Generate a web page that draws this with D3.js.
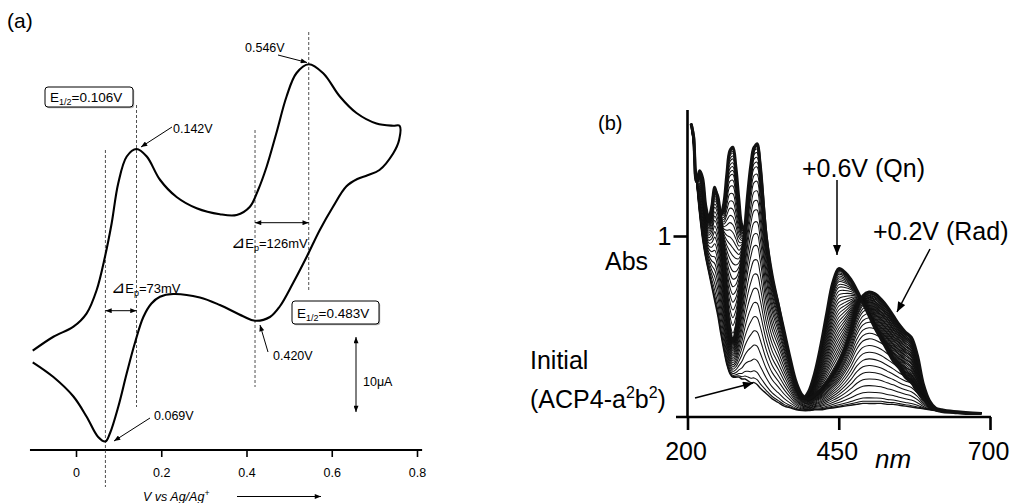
<!DOCTYPE html>
<html>
<head>
<meta charset="utf-8">
<script src="https://cdn.jsdelivr.net/npm/d3@7"></script>
<style>
  html, body { margin: 0; padding: 0; background: #fff; }
  svg { display: block; font-family: "Liberation Sans", Arial, Helvetica, sans-serif; }
</style>
</head>
<body>
<svg id="fig" width="1021" height="503"></svg>
<script>
// ---------- (a) cyclic voltammogram, V vs Ag/Ag+ and current in µA ----------
const cvTicks = [0, 0.2, 0.4, 0.6, 0.8];

// anodic sweep (left to right)
const forwardPotential = [-0.1015, -0.053, -0.006, 0.025, 0.0485, 0.068, 0.0837, 0.099, 0.119, 0.142,
  0.166, 0.197, 0.236, 0.283, 0.3375, 0.377, 0.408, 0.427, 0.447, 0.470, 0.494, 0.517, 0.546,
  0.580, 0.619, 0.658, 0.705, 0.744, 0.759];
const forwardCurrent = [-0.09, 1.77, 3.11, 4.89, 8.0, 12.44, 16.9, 22.2, 25.8, 26.8,
  25.8, 22.7, 20.4, 18.9, 18.1, 18.0, 19.1, 21.3, 24.4, 28.9, 33.8, 36.9, 38.1,
  36.9, 33.8, 31.6, 30.2, 29.9, 29.9];

// cathodic sweep (right to left)
const reversePotential = [0.758, 0.744, 0.712, 0.684, 0.660, 0.634, 0.603, 0.572, 0.541, 0.509,
  0.478, 0.455, 0.420, 0.392, 0.3375, 0.2906, 0.228, 0.197, 0.177, 0.158, 0.138, 0.119, 0.099,
  0.0797, 0.069, 0.052, 0.025, -0.006, -0.053, -0.1015];
const reverseCurrent = [28.0, 26.2, 24.0, 23.3, 22.8, 21.8, 19.1, 16.0, 12.4, 8.9,
  5.8, 4.4, 3.9, 4.5, 6.0, 7.0, 7.47, 7.1, 6.2, 4.4, 0.9, -3.1, -7.6,
  -11.1, -12.2, -11.6, -8.9, -6.2, -3.6, -1.64];

const peakPotentials = [0.069, 0.142, 0.420, 0.546];   // V
const halfWavePotentials = [0.106, 0.483];             // V
const peakSeparations = [73, 126];                     // mV
const scaleBarCurrent = 10;                            // µA

// ---------- (b) spectroelectrochemistry ----------
const wavelength = [206, 210, 215, 220, 225, 230, 235, 240, 245, 250, 255, 260, 265, 270, 275, 280,
  285, 290, 295, 300, 305, 310, 315, 320, 330, 340, 350, 360, 370, 380, 390, 400, 410, 420, 430,
  440, 450, 460, 470, 480, 490, 500, 510, 520, 530, 540, 550, 560, 570, 580, 590, 600, 610, 620,
  640, 660, 686];

const absInitial = [1.62, 1.50, 1.30, 1.12, 0.98, 0.88, 0.80, 0.72, 0.64, 0.56, 0.46, 0.37, 0.29,
  0.24, 0.22, 0.22, 0.22, 0.21, 0.21, 0.20, 0.19, 0.19, 0.18, 0.16, 0.13, 0.10, 0.08, 0.06, 0.05,
  0.04, 0.035, 0.035, 0.04, 0.04, 0.045, 0.05, 0.055, 0.06, 0.065, 0.07, 0.075, 0.075, 0.075,
  0.075, 0.07, 0.07, 0.065, 0.06, 0.055, 0.05, 0.045, 0.04, 0.035, 0.03, 0.025, 0.02, 0.02];

const absRadical = [1.62, 1.55, 1.30, 1.33, 1.28, 1.14, 1.08, 1.14, 1.25, 1.22, 1.08, 0.86, 0.64,
  0.48, 0.42, 0.48, 0.62, 0.82, 1.05, 1.25, 1.40, 1.49, 1.50, 1.38, 1.00, 0.76, 0.62, 0.47, 0.32,
  0.19, 0.12, 0.10, 0.12, 0.15, 0.19, 0.24, 0.30, 0.38, 0.48, 0.60, 0.67, 0.69, 0.68, 0.65, 0.61,
  0.56, 0.51, 0.47, 0.44, 0.34, 0.18, 0.09, 0.05, 0.04, 0.03, 0.025, 0.02];

const absQuinone = [1.62, 1.55, 1.30, 1.36, 1.32, 1.17, 1.10, 1.16, 1.27, 1.20, 1.12, 1.18, 1.34,
  1.47, 1.49, 1.38, 1.20, 1.06, 1.04, 1.16, 1.35, 1.48, 1.51, 1.40, 1.00, 0.78, 0.62, 0.45, 0.30,
  0.16, 0.10, 0.14, 0.24, 0.39, 0.57, 0.74, 0.82, 0.80, 0.76, 0.70, 0.63, 0.56, 0.49, 0.43, 0.37,
  0.31, 0.27, 0.22, 0.19, 0.14, 0.10, 0.06, 0.04, 0.03, 0.025, 0.02, 0.02];

// conversion reached at each recorded scan
const radicalSteps = [0, 0.02, 0.05, 0.1, 0.16, 0.22, 0.28, 0.34, 0.4, 0.46, 0.52, 0.58, 0.63,
  0.68, 0.73, 0.77, 0.81, 0.85, 0.88, 0.91, 0.93, 0.95, 0.97, 0.985, 1];
const quinoneSteps = [0.04, 0.08, 0.12, 0.16, 0.2, 0.24, 0.28, 0.32, 0.36, 0.4, 0.44, 0.48, 0.52,
  0.56, 0.6, 0.64, 0.68, 0.72, 0.76, 0.8, 0.83, 0.86, 0.88, 0.9, 0.92, 0.94, 0.955, 0.97, 0.98,
  0.99, 1];

const nmTicks = [200, 450, 700];
const absTicks = [1];

// ======================================================================
const FONT = '"Liberation Sans", Arial, Helvetica, sans-serif';
const svg = d3.select("#fig");
svg.append("rect").attr("width", 1021).attr("height", 503).attr("fill", "#fff");

const defs = svg.append("defs");
function addHead(id, w, h) {
  defs.append("marker")
    .attr("id", id)
    .attr("viewBox", "0 0 10 8")
    .attr("refX", 10).attr("refY", 4)
    .attr("markerWidth", w).attr("markerHeight", h)
    .attr("markerUnits", "userSpaceOnUse")
    .attr("orient", "auto-start-reverse")
    .append("path").attr("d", "M0,0 L10,4 L0,8 Z").attr("fill", "#000");
}
addHead("headS", 7, 5);
addHead("headL", 12, 8);

function arrow(g, x1, y1, x2, y2, head, width, both) {
  const l = g.append("line")
    .attr("x1", x1).attr("y1", y1).attr("x2", x2).attr("y2", y2)
    .attr("stroke", "#000").attr("stroke-width", width)
    .attr("marker-end", `url(#${head})`);
  if (both) l.attr("marker-start", `url(#${head})`);
  return l;
}

// ---------------------------- panel (a) ----------------------------
const gA = svg.append("g").attr("font-family", FONT);
const xA = d3.scaleLinear().domain([0, 0.8]).range([76, 417]);
const yA = d3.scaleLinear().domain([0, 10]).range([350, 275]);

gA.append("text").attr("x", 7).attr("y", 28).attr("font-size", 21).text("(a)");

// potential axis
gA.append("line")
  .attr("x1", xA(-0.108)).attr("x2", xA(0.812))
  .attr("y1", 450).attr("y2", 450)
  .attr("stroke", "#000").attr("stroke-width", 2);
const axA = gA.append("g")
  .attr("transform", "translate(0,450)")
  .call(d3.axisBottom(xA).tickValues(cvTicks).tickSize(7).tickSizeOuter(0).tickPadding(11)
    .tickFormat(d => d === 0 ? "0" : d3.format(".1f")(d)));
axA.select(".domain").remove();
axA.attr("font-family", FONT).attr("font-size", 12.5);
axA.selectAll(".tick line").attr("stroke", "#000").attr("stroke-width", 1.6);
axA.selectAll(".tick text").attr("fill", "#000");

// axis caption with direction arrow
const cap = gA.append("text").attr("x", 143).attr("y", 501)
  .attr("font-size", 12.5).attr("font-style", "italic");
cap.append("tspan").text("V vs Ag/Ag");
cap.append("tspan").attr("dy", -5).attr("font-size", 8.5).text("+");
arrow(gA, 237, 496.5, 321, 496.5, "headS", 1, false);

// dashed guides at the peak potentials
const guideSpan = [[150, 487], [105, 407], [130, 387], [32, 290]];
gA.selectAll("line.guide").data(peakPotentials).join("line")
  .attr("class", "guide")
  .attr("x1", d => xA(d)).attr("x2", d => xA(d))
  .attr("y1", (d, i) => guideSpan[i][0]).attr("y2", (d, i) => guideSpan[i][1])
  .attr("stroke", "#222").attr("stroke-width", 0.8).attr("stroke-dasharray", "3,2");

// voltammogram trace
const cvV = forwardPotential.concat(reversePotential);
const cvI = forwardCurrent.concat(reverseCurrent);
const cvLine = d3.line()
  .x((d, i) => xA(cvV[i]))
  .y(d => yA(d))
  .curve(d3.curveCatmullRom.alpha(0.5));
gA.append("path").datum(cvI)
  .attr("d", cvLine)
  .attr("fill", "none").attr("stroke", "#000").attr("stroke-width", 2.1)
  .attr("stroke-linejoin", "round");

// peak potential callouts
const fmtV = d => d3.format(".3f")(d) + "V";
const peakLabels = [
  { tx: 154, ty: 420, a: [150, 418, 114, 441] },
  { tx: 173, ty: 133, a: [172, 127, 141, 147] },
  { tx: 273, ty: 360, a: [268, 352, 260, 325] },
  { tx: 245, ty: 52, a: [278, 55, 307, 62.5] }
];
peakPotentials.forEach((v, i) => {
  const p = peakLabels[i];
  gA.append("text").attr("x", p.tx).attr("y", p.ty).attr("font-size", 12.5).text(fmtV(v));
  arrow(gA, p.a[0], p.a[1], p.a[2], p.a[3], "headS", 1, false);
});

// half-wave potential boxes
const halfBoxes = [{ x: 45, y: 87, w: 88, h: 20 }, { x: 292, y: 301, w: 87, h: 23 }];
halfWavePotentials.forEach((v, i) => {
  const b = halfBoxes[i];
  gA.append("rect").attr("x", b.x + 1.2).attr("y", b.y + 1.2).attr("width", b.w).attr("height", b.h)
    .attr("rx", 3).attr("fill", "#b0b0b0");
  gA.append("rect").attr("x", b.x).attr("y", b.y).attr("width", b.w).attr("height", b.h)
    .attr("rx", 3).attr("fill", "#fff").attr("stroke", "#000").attr("stroke-width", 1);
  const t = gA.append("text").attr("x", b.x + 5).attr("y", b.y + b.h / 2 + 5).attr("font-size", 13.5);
  t.append("tspan").text("E");
  t.append("tspan").attr("dy", 3).attr("font-size", 9).text("1/2");
  t.append("tspan").attr("dy", -3).text("=" + fmtV(v));
});

// peak separation markers
const sepLayout = [
  { from: 0, to: 1, y: 310.7, tx: 111, ty: 293 },
  { from: 2, to: 3, y: 222.7, tx: 231, ty: 248 }
];
peakSeparations.forEach((mv, i) => {
  const s = sepLayout[i];
  arrow(gA, xA(peakPotentials[s.from]), s.y, xA(peakPotentials[s.to]), s.y, "headS", 1, true);
  const t = gA.append("text").attr("x", s.tx).attr("y", s.ty).attr("font-size", 13);
  t.append("tspan").attr("font-size", 17).attr("font-family", "DejaVu Sans").text("\u22BF");
  t.append("tspan").text("E");
  t.append("tspan").attr("dy", 3).attr("font-size", 9).text("p");
  t.append("tspan").attr("dy", -3).text("=" + mv + "mV");
});

// current scale bar
const barBase = -8.27;
arrow(gA, 356, yA(barBase), 356, yA(barBase + scaleBarCurrent), "headS", 1, true);
gA.append("text").attr("x", 363).attr("y", 386).attr("font-size", 12.5)
  .text(scaleBarCurrent + "\u03BCA");

// ---------------------------- panel (b) ----------------------------
const gB = svg.append("g").attr("font-family", FONT);
const xB = d3.scaleLinear().domain([200, 700]).range([687.5, 990]);
const yB = d3.scaleLinear().domain([0, 1]).range([417, 236]);

gB.append("text").attr("x", 598).attr("y", 130).attr("font-size", 20).text("(b)");

// spectra
const specLine = d3.line()
  .x((d, i) => xB(wavelength[i]))
  .y(d => yB(d))
  .curve(d3.curveCatmullRom.alpha(0.5));
const mix = (a, b, f) => a.map((v, i) => v + f * (b[i] - v));

const curves = [];
radicalSteps.forEach(f => curves.push({ abs: mix(absInitial, absRadical, f), w: f === 0 ? 1.4 : 1.05 }));
quinoneSteps.forEach(f => curves.push({ abs: mix(absRadical, absQuinone, f), w: 1.05 }));
curves.push({ abs: absRadical, w: 3 });
curves.push({ abs: absQuinone, w: 3 });

gB.append("g").selectAll("path").data(curves).join("path")
  .attr("d", d => specLine(d.abs))
  .attr("fill", "none").attr("stroke", "#111")
  .attr("stroke-width", d => d.w).attr("stroke-linejoin", "round");

// axes
gB.append("line").attr("x1", 676).attr("x2", 991).attr("y1", 417).attr("y2", 417)
  .attr("stroke", "#000").attr("stroke-width", 2.6);
gB.append("line").attr("x1", xB(200)).attr("x2", xB(200)).attr("y1", 110).attr("y2", 417)
  .attr("stroke", "#000").attr("stroke-width", 2.6);

const axB = gB.append("g").attr("transform", "translate(0,417)")
  .call(d3.axisBottom(xB).tickValues(nmTicks).tickSize(13).tickSizeOuter(0).tickPadding(12));
axB.select(".domain").remove();
axB.attr("font-family", FONT).attr("font-size", 25);
axB.selectAll(".tick line").attr("stroke", "#000").attr("stroke-width", 2.6);
axB.selectAll(".tick text").attr("fill", "#000").attr("dx", -2);

const ayB = gB.append("g").attr("transform", `translate(${xB(200)},0)`)
  .call(d3.axisLeft(yB).tickValues(absTicks).tickSize(14).tickSizeOuter(0).tickPadding(2)
    .tickFormat(d3.format("d")));
ayB.select(".domain").remove();
ayB.attr("font-family", FONT).attr("font-size", 25);
ayB.selectAll(".tick line").attr("stroke", "#000").attr("stroke-width", 2.6);
ayB.selectAll(".tick text").attr("fill", "#000");

gB.append("text").attr("x", 605).attr("y", 270).attr("font-size", 25).text("Abs");
gB.append("text").attr("x", 875).attr("y", 468).attr("font-size", 26)
  .attr("font-style", "italic").text("nm");

// annotations
gB.append("text").attr("x", 802).attr("y", 177).attr("font-size", 25).text("+0.6V (Qn)");
arrow(gB, 837, 180, 837, 255, "headL", 1.5, false);
gB.append("text").attr("x", 873).attr("y", 240).attr("font-size", 25).text("+0.2V (Rad)");
arrow(gB, 930, 249, 897, 312, "headL", 1.5, false);

gB.append("text").attr("x", 530).attr("y", 369).attr("font-size", 25).text("Initial");
const ini = gB.append("text").attr("x", 530).attr("y", 408).attr("font-size", 25);
ini.append("tspan").text("(ACP4-a");
ini.append("tspan").attr("dy", -10).attr("font-size", 16).text("2");
ini.append("tspan").attr("dy", 10).text("b");
ini.append("tspan").attr("dy", -10).attr("font-size", 16).text("2");
ini.append("tspan").attr("dy", 10).text(")");
arrow(gB, 695, 398, 753, 383, "headL", 1.5, false);
</script>
</body>
</html>
